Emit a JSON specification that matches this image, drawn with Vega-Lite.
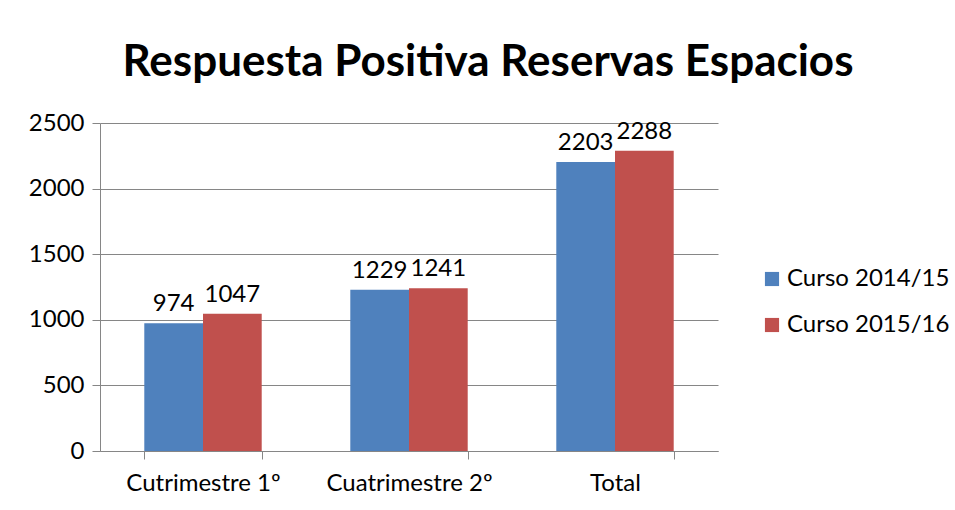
{
  "$schema": "https://vega.github.io/schema/vega-lite/v6.json",
  "autosize": "none",
  "width": 618,
  "height": 328,
  "padding": {"left": 100, "top": 123, "right": 237, "bottom": 59},
  "background": "white",
  "title": {
    "text": "Respuesta Positiva Reservas Espacios",
    "font": "Lato",
    "fontSize": 44,
    "fontWeight": "bold",
    "color": "#000000",
    "anchor": "middle",
    "dx": 79,
    "offset": 26
  },
  "data": {
    "values": [
      {"cat": "Cutrimestre 1º", "serie": "Curso 2014/15", "valor": 974},
      {"cat": "Cutrimestre 1º", "serie": "Curso 2015/16", "valor": 1047},
      {"cat": "Cuatrimestre 2º", "serie": "Curso 2014/15", "valor": 1229},
      {"cat": "Cuatrimestre 2º", "serie": "Curso 2015/16", "valor": 1241},
      {"cat": "Total", "serie": "Curso 2014/15", "valor": 2203},
      {"cat": "Total", "serie": "Curso 2015/16", "valor": 2288}
    ]
  },
  "encoding": {
    "x": {
      "field": "cat",
      "type": "nominal",
      "sort": ["Cutrimestre 1º", "Cuatrimestre 2º", "Total"],
      "scale": {"paddingInner": 0.43, "paddingOuter": 0.215},
      "axis": {
        "title": null,
        "labelAngle": 0,
        "tickBand": "extent",
        "tickSize": 8,
        "tickColor": "#868686",
        "domainColor": "#868686",
        "labelFont": "Lato",
        "labelFontSize": 24,
        "labelColor": "#000000",
        "labelPadding": 12
      }
    },
    "xOffset": {"field": "serie", "type": "nominal"},
    "y": {
      "field": "valor",
      "type": "quantitative",
      "scale": {"domain": [0, 2500]},
      "axis": {
        "title": null,
        "values": [0, 500, 1000, 1500, 2000, 2500],
        "format": "d",
        "grid": true,
        "gridColor": "#868686",
        "domainColor": "#868686",
        "tickColor": "#868686",
        "tickSize": 8,
        "labelFont": "Lato",
        "labelFontSize": 24,
        "labelColor": "#000000",
        "labelPadding": 8
      }
    }
  },
  "layer": [
    {
      "mark": {"type": "bar"},
      "encoding": {
        "color": {
          "field": "serie",
          "type": "nominal",
          "scale": {"domain": ["Curso 2014/15", "Curso 2015/16"], "range": ["#4F81BD", "#C0504D"]},
          "legend": {
            "title": null,
            "orient": "none",
            "legendX": 660,
            "legendY": 144,
            "symbolType": "square",
            "symbolSize": 200,
            "symbolStrokeWidth": 0,
            "labelFont": "Lato",
            "labelFontSize": 24,
            "labelColor": "#000000",
            "labelLimit": 0,
            "rowPadding": 22,
            "labelOffset": 3
          }
        }
      }
    },
    {
      "mark": {"type": "text", "baseline": "bottom", "dy": -7, "font": "Lato", "fontSize": 24, "color": "#000000"},
      "encoding": {
        "text": {"field": "valor", "type": "quantitative", "format": "d"}
      }
    }
  ],
  "config": {
    "view": {"stroke": null}
  }
}
